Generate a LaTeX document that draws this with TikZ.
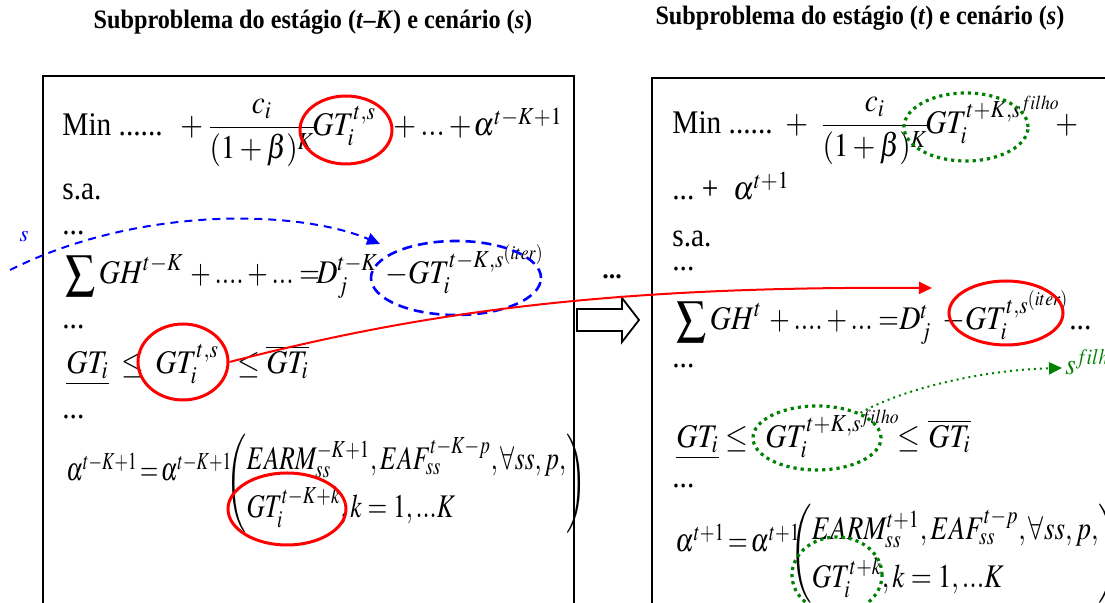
\documentclass[tikz,border=0pt]{standalone}
\usepackage{amsmath}
\usepackage{graphicx}
\usepackage{mathptmx}
\usepackage[no-math]{fontspec}
\setmainfont{Liberation Serif}
\usetikzlibrary{shapes.geometric, arrows.meta, positioning}
\newcommand{\eqsize}{\fontsize{16.5}{20}\selectfont}
\newcommand{\eqbox}[1]{\scalebox{0.89}[1]{#1}}
\newcommand{\fitbox}[2]{\scalebox{#1}[1]{#2}}
\newcommand{\headbox}[1]{\scalebox{0.91}[1]{#1}}
\tikzset{
    eqline/.style={anchor=base west, inner sep=0pt, font=\eqsize},
    heading/.style={inner sep=0pt, font=\fontsize{13.3}{16}\selectfont\bfseries},
    panel/.style={draw, line width=1pt},
    redoval/.style={ellipse, draw=red, line width=1.5pt, inner sep=0pt},
    blueoval/.style={ellipse, draw=blue, dash pattern=on 5pt off 3pt, line width=1.3pt, inner sep=0pt},
    greenoval/.style={ellipse, draw=green!50!black, dotted, line width=1.6pt, inner sep=0pt},
    arrow/.style={-{Triangle[length=6.5pt,width=6pt]}}
}

\begin{document}
\begin{tikzpicture}[x=0.5pt, y=-0.5pt]
        \clip (0,0) rectangle (1105,603);
        % titles
        \node[heading] (titleA) at (313,22) {\headbox{Subproblema do estágio (\textit{t}–\textit{K}) e cenário (\textit{s})}};
        \node[heading] (titleB) at (860,18) {\headbox{Subproblema do estágio (\textit{t}) e cenário (\textit{s})}};
        % the two subproblems
        \draw[panel] (43,76) rectangle (574,650);
        \draw[panel] (652,78) rectangle (1150,650);
        % stage t-K
        \node[eqline] (minA) at (62,136) {\eqbox{Min ......}};
        \node[eqline] (plusA) at (180,136) {\eqbox{$+$}};
        \node[eqline] (costA) at (207,136) {\eqbox{$\dfrac{c_i}{(1+\beta)^K}$}};
        \node[eqline] (gtA) at (312,136) {\eqbox{$GT_i^{t,s}$}};
        \node[eqline] (restA) at (393,136) {\eqbox{$+\:...\:+$}};
        \node[eqline] (futA) at (473,136) {\eqbox{$\alpha^{t-K+1}$}};
        \node[eqline] (saA) at (62,200) {\eqbox{s.a.}};
        \node[eqline] (dotsA1) at (62,235) {\eqbox{...}};
        \node[eqline] (sumA) at (65,284) {\eqbox{$\displaystyle\sum GH^{t-K}$}};
        \node[eqline] (eqA) at (190,284) {\fitbox{0.8}{$+\:....+...=$}};
        \node[eqline] (demA) at (316,284) {\eqbox{$D_j^{t-K}$}};
        \node[eqline] (iterA) at (385,284) {\eqbox{$-GT_i^{t-K,s^{(iter)}}$}};
        \node[eqline] (dotsA2) at (62,329) {\eqbox{...}};
        \node[eqline] (lowA) at (66,374) {\eqbox{$\underline{GT_i}$}};
        \node[eqline] (leA1) at (121,374) {\eqbox{$\le$}};
        \node[eqline] (varA) at (155,374) {\eqbox{$GT_i^{t,s}$}};
        \node[eqline] (leA2) at (237,374) {\eqbox{$\le$}};
        \node[eqline] (upA) at (266,374) {\eqbox{$\overline{GT_i}$}};
        \node[eqline] (dotsA3) at (62,419) {\eqbox{...}};
        \node[eqline] (alphaA) at (66,481) {\fitbox{0.71}{$\alpha^{t-K+1}\!=\!\alpha^{t-K+1}$}};
        \node[eqline] (argsA) at (226,492) {\fitbox{0.77}{\renewcommand{\arraystretch}{1.2}$\left(\begin{array}{@{}l@{}} EARM_{ss}^{-K+1}, EAF_{ss}^{t-K-p}, \forall ss, p, \\ GT_i^{t-K+k}, k=1,...K \end{array}\right)$}};
        % stage t
        \node[eqline] (minB) at (672,134) {\eqbox{Min ......}};
        \node[eqline] (plusB) at (785,134) {\eqbox{$+$}};
        \node[eqline] (costB) at (820,134) {\eqbox{$\dfrac{c_i}{(1+\beta)^K}$}};
        \node[eqline] (gtB) at (925,134) {\eqbox{$GT_i^{t+K,s^{filho}}$}};
        \node[eqline] (plusB2) at (1055,134) {\eqbox{$+$}};
        \node[eqline] (futB) at (672,200) {\eqbox{...\ +\ \ $\alpha^{t+1}$}};
        \node[eqline] (saB) at (672,247) {\eqbox{s.a.}};
        \node[eqline] (dotsB1) at (672,271) {\eqbox{...}};
        \node[eqline] (sumB) at (676,330) {\eqbox{$\displaystyle\sum GH^{t}$}};
        \node[eqline] (eqB) at (769,330) {\fitbox{0.8}{$+\:....+...=$}};
        \node[eqline] (demB) at (899,330) {\eqbox{$D_j^{t}$}};
        \node[eqline] (iterB) at (942,330) {\eqbox{$-GT_i^{t,s^{(iter)}}$}};
        \node[eqline] (moreB) at (1069,330) {\eqbox{...}};
        \node[eqline] (dotsB2) at (672,368) {\eqbox{...}};
        \node[eqline] (lowB) at (676,448) {\eqbox{$\underline{GT_i}$}};
        \node[eqline] (leB1) at (725,448) {\eqbox{$\le$}};
        \node[eqline] (varB) at (765,448) {\eqbox{$GT_i^{t+K,s^{filho}}$}};
        \node[eqline] (leB2) at (897,448) {\eqbox{$\le$}};
        \node[eqline] (upB) at (928,448) {\eqbox{$\overline{GT_i}$}};
        \node[eqline] (dotsB3) at (672,488) {\eqbox{...}};
        \node[eqline] (alphaB) at (675,552) {\fitbox{0.78}{$\alpha^{t+1}\!=\!\alpha^{t+1}$}};
        \node[eqline] (argsB) at (790,562) {\fitbox{0.82}{\renewcommand{\arraystretch}{1.2}$\left(\begin{array}{@{}l@{}} EARM_{ss}^{t+1}, EAF_{ss}^{t-p}, \forall ss, p, \\ GT_i^{t+k}, k=1,...K \end{array}\right)$}};
        % marked variables
        \node[redoval, minimum width=46pt, minimum height=34pt] (ovA) at (346,130) {};
        \node[blueoval, minimum width=85pt, minimum height=37pt] (ovB) at (456,278) {};
        \node[redoval, minimum width=45pt, minimum height=38pt] (ovC) at (183,362) {};
        \node[redoval, minimum width=59pt, minimum height=36pt] (ovD) at (287,509) {};
        \node[greenoval, minimum width=62pt, minimum height=34pt] (ovE) at (966,127) {};
        \node[redoval, minimum width=57pt, minimum height=32pt] (ovF) at (1006,313) {};
        \node[greenoval, minimum width=64pt, minimum height=32pt] (ovG) at (817,438) {};
        \node[greenoval, minimum width=45pt, minimum height=38pt] (ovH) at (837,575) {};
        % between the panels
        \node[inner sep=0pt, font=\fontsize{13}{15}\selectfont\bfseries] (gap) at (612,277) {...};
        \draw[line width=0.9pt] (577,309) -- (622,309) -- (622,298) -- (639,320) -- (622,342) -- (622,331) -- (577,331) -- cycle;
        % scenario links
        \coordinate (sstart) at (10,270);
        \coordinate (bluetip) at (380,244);
        \coordinate (redtip) at (932,288);
        \coordinate (greentip) at (1062,368);
        \node[text=blue, inner sep=0pt, font=\fontsize{11.5}{14}\selectfont] (slabel) at (24,237) {$s$};
        \node[anchor=base west, text=green!50!black, inner sep=0pt, font=\fontsize{15}{18}\selectfont] (sfilho) at (1065,375) {\eqbox{$s^{filho}$}};
        \draw[arrow, blue, dash pattern=on 4pt off 3pt, line width=1pt] (sstart) .. controls (140,205) and (300,210) .. (bluetip);
        \draw[arrow, red, line width=1pt] (ovC.east) .. controls (430,310) and (620,286) .. (redtip);
        \draw[arrow, green!50!black, dotted, line width=1pt] (ovG.30) .. controls (900,390) and (980,370) .. (greentip);
\end{tikzpicture}
\end{document}
